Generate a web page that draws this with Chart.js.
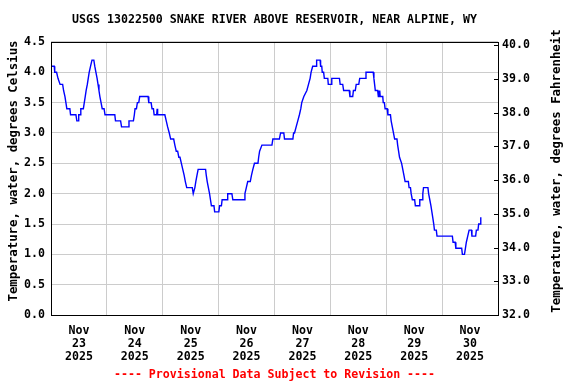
<!DOCTYPE html>
<html>
<head>
<meta charset="utf-8">
<script src="https://cdn.jsdelivr.net/npm/chart.js@4/dist/chart.umd.min.js"></script>
<style>
  html, body { margin: 0; padding: 0; background: #fff; }
</style>
</head>
<body>
<canvas id="myChart" width="576" height="384"></canvas>
<script>
const chartTitle = 'USGS 13022500 SNAKE RIVER ABOVE RESERVOIR, NEAR ALPINE, WY';
const footNote = '---- Provisional Data Subject to Revision ----';
const leftAxisTitle = 'Temperature, water, degrees Celsius';
const rightAxisTitle = 'Temperature, water, degrees Fahrenheit';
const monthLabel = 'Nov';
const yearLabel = '2025';
const dayLabels = ['23', '24', '25', '26', '27', '28', '29', '30'];

// hours since Nov 23 00:00, water temperature in deg C
const hours = [
    0.3, 1.4, 1.6, 2.4, 3.0, 3.9, 5.0, 5.4, 6.0, 6.4, 6.8, 8.1, 8.4, 10.7, 11.1, 11.6, 11.9, 12.5, 12.8, 13.9,
    14.3, 14.7, 15.1, 15.6, 16.0, 16.4, 17.0, 17.6, 18.4, 18.8, 19.3, 19.8, 20.2, 20.6, 21.0, 21.5, 22.0, 22.8, 23.2,
    27.4, 27.7, 29.9, 30.3, 33.1, 33.5, 35.4, 35.8, 36.1, 36.7, 37.1, 37.7, 38.1, 41.7, 42.0, 43.0, 43.4, 44.0, 44.3,
    45.4, 45.6, 45.8, 48.9, 49.5, 50.1, 50.8, 51.4, 52.7, 53.2, 53.8, 54.4, 54.9,
    55.4, 56.0, 56.6, 57.2, 57.7, 58.3, 60.7, 61.1, 61.4, 61.8, 62.2, 62.7, 63.2, 66.4, 66.7, 67.1, 67.6, 68.1, 68.5,
    68.9, 70.0, 70.3, 72.1, 72.4, 73.2, 73.5, 75.7, 75.9, 77.7, 78.1, 82.9, 83.3, 83.9, 84.5, 85.6, 86.1, 86.7, 87.4,
    88.9, 89.2, 89.6, 90.6, 94.9, 95.3, 98.1, 98.6, 100.0, 100.3, 103.9, 104.2, 104.6, 105.3, 106.0, 106.7, 107.3,
    107.7, 108.6, 109.9, 110.6, 111.3, 111.7, 112.4, 113.9, 114.1, 115.6, 115.8, 116.3, 116.5, 117.1, 117.4, 118.9,
    119.1, 120.3, 120.6, 123.9, 124.2, 125.3, 125.7, 128.1, 128.4, 129.6, 129.9, 130.7, 131.1, 132.2, 132.6, 135.0,
    135.3, 138.4, 138.7, 139.0, 139.3, 140.3, 140.6, 140.8, 141.0, 141.2, 141.4, 142.5, 142.7, 143.2, 143.5, 144.4,
    144.7, 145.8, 146.1, 146.6, 147.1, 147.6, 148.6, 148.9, 149.3, 149.7, 150.6, 151.1, 151.6, 152.1, 153.5, 153.8,
    154.4, 154.7, 155.2, 156.2, 156.5, 158.1, 158.4, 159.4, 159.7, 160.0, 161.9, 162.2, 162.7, 163.2, 163.6, 164.0,
    164.4, 164.7, 165.5, 165.8, 172.4, 172.7, 173.6, 173.9, 176.4, 176.7, 177.6, 178.0, 178.4, 179.0, 179.6, 180.6,
    180.8, 182.4, 182.7, 183.4, 183.7, 184.3, 184.6, 184.9
];
const tempC = [
    4.1, 4.1, 4.0, 4.0, 3.9, 3.8, 3.8, 3.7, 3.6, 3.5, 3.4, 3.4, 3.3, 3.3, 3.2, 3.2, 3.3, 3.3, 3.4, 3.4,
    3.5, 3.6, 3.7, 3.8, 3.9, 4.0, 4.1, 4.2, 4.2, 4.1, 4.0, 3.9, 3.8, 3.7, 3.6, 3.5, 3.4, 3.4, 3.3,
    3.3, 3.2, 3.2, 3.1, 3.1, 3.2, 3.2, 3.3, 3.4, 3.4, 3.5, 3.5, 3.6, 3.6, 3.5, 3.5, 3.4, 3.4, 3.3,
    3.3, 3.4, 3.3, 3.3, 3.2, 3.1, 3.0, 2.9, 2.9, 2.8, 2.7, 2.7, 2.6,
    2.6, 2.5, 2.4, 2.3, 2.2, 2.1, 2.1, 2.0, 2.0, 2.1, 2.2, 2.3, 2.4, 2.4, 2.3, 2.2, 2.1, 2.0, 1.9,
    1.8, 1.8, 1.7, 1.7, 1.8, 1.8, 1.9, 1.9, 2.0, 2.0, 1.9, 1.9, 2.0, 2.1, 2.2, 2.2, 2.3, 2.4, 2.5,
    2.5, 2.6, 2.7, 2.8, 2.8, 2.9, 2.9, 3.0, 3.0, 2.9, 2.9, 3.0, 3.0, 3.1, 3.2, 3.3, 3.4,
    3.5, 3.6, 3.7, 3.8, 3.9, 4.0, 4.1, 4.1, 4.2, 4.2, 4.1, 4.1, 4.0, 4.0, 3.9, 3.9,
    3.8, 3.8, 3.9, 3.9, 3.8, 3.8, 3.7, 3.7, 3.6, 3.6, 3.7, 3.7, 3.8, 3.8, 3.9, 3.9,
    4.0, 4.0, 3.9, 3.8, 3.7, 3.7, 3.6, 3.7, 3.6, 3.7, 3.6, 3.6, 3.5, 3.5, 3.4, 3.4,
    3.3, 3.3, 3.2, 3.1, 3.0, 2.9, 2.9, 2.8, 2.7, 2.6, 2.5, 2.4, 2.3, 2.2, 2.2, 2.1,
    2.1, 2.0, 1.9, 1.9, 1.8, 1.8, 1.9, 1.9, 2.0, 2.1, 2.1, 2.0, 1.9, 1.8, 1.7, 1.6,
    1.5, 1.4, 1.4, 1.3, 1.3, 1.2, 1.2, 1.1, 1.1, 1.0, 1.0, 1.1, 1.2, 1.3, 1.4, 1.4,
    1.3, 1.3, 1.4, 1.4, 1.5, 1.5, 1.6, 1.6
];

const monoFont = "'DejaVu Sans Mono', 'Liberation Mono', monospace";
const gridGrey = '#cccccc';

// frame, inward ticks on the Fahrenheit axis, and the two rotated axis titles
const framePlugin = {
    id: 'frame',
    afterDraw(chart) {
        const ctx = chart.ctx;
        const a = chart.chartArea;
        ctx.save();
        ctx.strokeStyle = '#000';
        ctx.lineWidth = 1;
        ctx.strokeRect(Math.round(a.left) + 0.5, Math.round(a.top) + 0.5,
            Math.round(a.right - a.left), Math.round(a.bottom - a.top));

        const y2 = chart.scales.y2;
        ctx.beginPath();
        y2.ticks.forEach(t => {
            const py = Math.round(y2.getPixelForValue(t.value)) + 0.5;
            ctx.moveTo(a.right - 4, py);
            ctx.lineTo(a.right, py);
        });
        ctx.stroke();

        ctx.fillStyle = '#000';
        ctx.font = 'bold 12.4px ' + monoFont;
        ctx.textAlign = 'center';
        ctx.textBaseline = 'middle';
        const midY = 171;
        ctx.translate(14, midY);
        ctx.rotate(-Math.PI / 2);
        ctx.fillText(leftAxisTitle, 0, 0);
        ctx.rotate(Math.PI / 2);
        ctx.translate(557 - 14, 0);
        ctx.rotate(-Math.PI / 2);
        ctx.fillText(rightAxisTitle, 0, 0);
        ctx.restore();
    }
};

const ctx = document.getElementById('myChart').getContext('2d');

const myChart = new Chart(ctx, {
    type: 'line',
    data: {
        datasets: [{
            label: 'Temperature',
            data: hours.map((h, i) => ({ x: h, y: tempC[i] })),
            borderColor: '#0000ff',
            backgroundColor: '#0000ff',
            borderWidth: 1.4,
            pointRadius: 0,
            tension: 0,
            fill: false
        }]
    },
    options: {
        responsive: false,
        animation: false,
        devicePixelRatio: 1,
        layout: { padding: 0 },
        font: { family: monoFont, weight: 'bold', size: 11.6 },
        plugins: {
            legend: { display: false },
            tooltip: { enabled: false },
            title: {
                display: true,
                text: chartTitle,
                fullSize: false,
                color: '#000',
                font: { family: monoFont, weight: 'bold', size: 11.6, lineHeight: 1.2 },
                padding: { top: 13, bottom: 15 }
            },
            subtitle: {
                display: true,
                text: footNote,
                position: 'bottom',
                fullSize: false,
                color: '#ff0000',
                font: { family: monoFont, weight: 'bold', size: 11.6, lineHeight: 1.2 },
                padding: { top: 0, bottom: 2 }
            }
        },
        scales: {
            x: {
                type: 'linear',
                position: 'bottom',
                min: 0,
                max: 192,
                afterFit: s => { s.height = 53; },
                border: { display: false },
                grid: {
                    drawTicks: false,
                    lineWidth: 1,
                    color: c => (c.tick && c.tick.value % 24 === 0) ? gridGrey : 'rgba(0,0,0,0)'
                },
                ticks: {
                    stepSize: 12,
                    autoSkip: false,
                    maxRotation: 0,
                    padding: 9,
                    color: '#000',
                    font: { family: monoFont, weight: 'bold', size: 11.6, lineHeight: 1.12 },
                    callback: v => (v % 24 === 12) ? [monthLabel, dayLabels[(v - 12) / 24], yearLabel] : ''
                }
            },
            y: {
                position: 'left',
                min: 0,
                max: 4.5,
                afterFit: s => { s.width = 51; },
                border: { display: false },
                grid: { drawTicks: false, color: gridGrey, lineWidth: 1 },
                ticks: {
                    stepSize: 0.5,
                    padding: 6,
                    color: '#000',
                    font: { family: monoFont, weight: 'bold', size: 11.6 },
                    callback: v => v.toFixed(1)
                }
            },
            y2: {
                position: 'right',
                min: 32,
                max: 32 + 4.5 * 1.8,
                afterFit: s => { s.width = 78; },
                border: { display: false },
                grid: { drawOnChartArea: false, drawTicks: false },
                ticks: {
                    stepSize: 1,
                    includeBounds: false,
                    padding: 4,
                    color: '#000',
                    font: { family: monoFont, weight: 'bold', size: 11.6 },
                    callback: v => v.toFixed(1)
                }
            }
        }
    },
    plugins: [framePlugin]
});
</script>
</body>
</html>
